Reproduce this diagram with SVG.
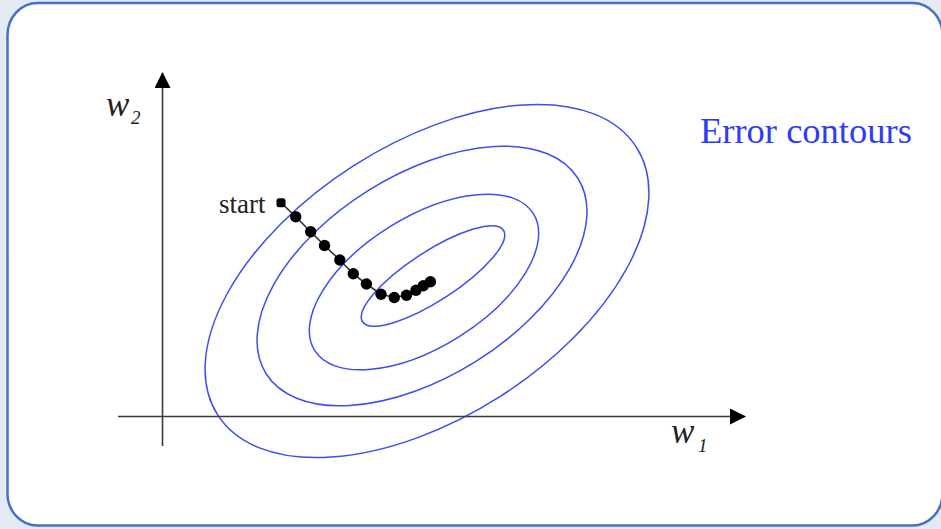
<svg xmlns="http://www.w3.org/2000/svg" width="941" height="529" viewBox="0 0 941 529">
<style>
.contour{fill:none;stroke:#3a4ff0;stroke-width:1.5}
.axis{stroke:#3a3a3a;stroke-width:1.6;fill:none}
.lbl{font-family:"Liberation Serif",serif;fill:#222}
.it{font-style:italic}
.dot{fill:#000}
</style>
<defs>
<marker id="arr" viewBox="0 0 16 16" refX="15" refY="8" markerWidth="16" markerHeight="16" markerUnits="userSpaceOnUse" orient="auto">
<path d="M0,0 L16,8 L0,16 Z" fill="#000"/>
</marker>
</defs>
<rect x="0" y="0" width="941" height="529" fill="#e4e9f3"/>
<rect x="7.5" y="3" width="935" height="522.5" rx="30" ry="32" fill="#fff" stroke="#4472c4" stroke-width="2.5"/>

<g id="contours">
<ellipse class="contour" cx="427" cy="281" rx="248.5" ry="136.7" transform="rotate(-32.6 427 281)"/>
<ellipse class="contour" cx="422" cy="276" rx="184" ry="101" transform="rotate(-32 422 276)"/>
<ellipse class="contour" cx="424" cy="282" rx="129" ry="65" transform="rotate(-32 424 282)"/>
<ellipse class="contour" cx="433" cy="276" rx="84" ry="24.6" transform="rotate(-33 433 276)"/>
</g>

<g id="axes">
<line class="axis" x1="162.5" y1="446" x2="162.5" y2="73" marker-end="url(#arr)"/>
<line class="axis" x1="118" y1="416.5" x2="745" y2="416.5" marker-end="url(#arr)"/>
</g>

<g id="label-w2">
<text class="lbl it" x="106" y="116" font-size="35">w</text>
<text class="lbl it" x="131" y="124" font-size="19">2</text>
</g>
<g id="label-w1">
<text class="lbl it" x="671" y="443" font-size="35">w</text>
<text class="lbl it" x="698" y="452" font-size="19">1</text>
</g>
<g id="label-errors">
<text x="700" y="143" font-size="36.5" font-family="'Liberation Serif',serif" fill="#2d3cf7">Error contours</text>
</g>
<g id="label-start">
<text class="lbl" x="219" y="213" font-size="27">start</text>
</g>

<g id="path">
<polyline fill="none" stroke="#333" stroke-width="1.6" points="281,202.7 295.7,216.7 310.7,231.7 324.5,245.5 339.8,260 353.3,273.8 366.4,284 381,294.2 394.3,297.5 406.5,295.3 416,290.3 423.3,285.8 430.4,281.7"/>
<rect class="dot" x="276.5" y="198.2" width="9" height="9" rx="2.5"/>
<circle class="dot" cx="295.7" cy="216.7" r="5.7"/>
<circle class="dot" cx="310.7" cy="231.7" r="5.7"/>
<circle class="dot" cx="324.5" cy="245.5" r="5.7"/>
<circle class="dot" cx="339.8" cy="260" r="5.7"/>
<circle class="dot" cx="353.3" cy="273.8" r="5.7"/>
<circle class="dot" cx="366.4" cy="284" r="5.7"/>
<circle class="dot" cx="381" cy="294.2" r="5.7"/>
<circle class="dot" cx="394.3" cy="297.5" r="5.7"/>
<circle class="dot" cx="406.5" cy="295.3" r="5.7"/>
<circle class="dot" cx="416" cy="290.3" r="5.7"/>
<circle class="dot" cx="423.3" cy="285.8" r="5.7"/>
<circle class="dot" cx="430.4" cy="281.7" r="5.7"/>
</g>
</svg>
